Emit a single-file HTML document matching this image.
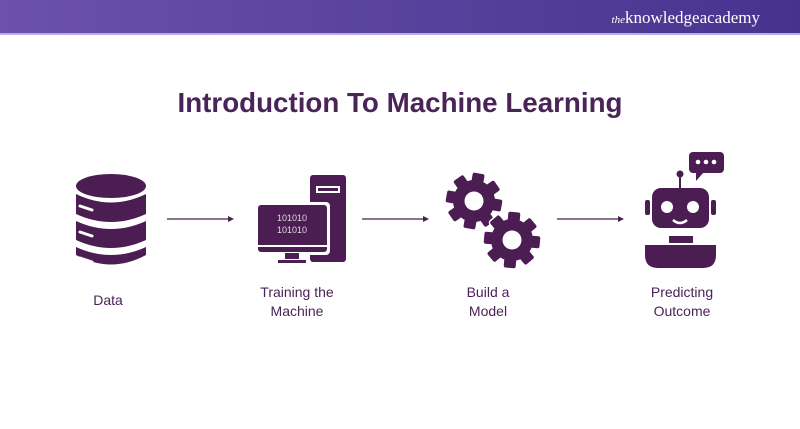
<!DOCTYPE html>
<html><head><style>
body{margin:0;width:800px;height:424px;overflow:hidden;background:#fff;font-family:"Liberation Sans",sans-serif}
</style></head><body>
<svg width="800" height="424" viewBox="0 0 800 424" xmlns="http://www.w3.org/2000/svg">
<defs>
<linearGradient id="hg" x1="0" x2="1"><stop offset="0" stop-color="#6b51aa"/><stop offset="1" stop-color="#47338f"/></linearGradient>
<g id="gear">
<circle r="21"/>
<rect x="-6" y="-28" width="12" height="12" rx="2"/>
<rect x="-6" y="-28" width="12" height="12" rx="2" transform="rotate(45)"/>
<rect x="-6" y="-28" width="12" height="12" rx="2" transform="rotate(90)"/>
<rect x="-6" y="-28" width="12" height="12" rx="2" transform="rotate(135)"/>
<rect x="-6" y="-28" width="12" height="12" rx="2" transform="rotate(180)"/>
<rect x="-6" y="-28" width="12" height="12" rx="2" transform="rotate(225)"/>
<rect x="-6" y="-28" width="12" height="12" rx="2" transform="rotate(270)"/>
<rect x="-6" y="-28" width="12" height="12" rx="2" transform="rotate(315)"/>
</g>
</defs>
<rect width="800" height="33" fill="url(#hg)"/>
<rect y="33" width="800" height="2" fill="#b9aede"/>
<text x="760" y="23" text-anchor="end" font-family="Liberation Serif,serif" font-size="17" fill="#fff"><tspan font-style="italic" font-size="11">the</tspan>knowledgeacademy</text>
<text x="400" y="112" text-anchor="middle" font-size="28" font-weight="bold" fill="#4a2358" textLength="445" lengthAdjust="spacingAndGlyphs">Introduction To Machine Learning</text>

<g fill="#4b1d52">
<ellipse cx="111" cy="186" rx="35" ry="12"/>
<path d="M76 194 Q111 211 146 194 V214 Q111 230 76 214Z"/>
<path d="M76 221 Q111 237 146 221 V240 Q111 256 76 240Z"/>
<path d="M76 247 Q111 263 146 247 V255 Q111 274 76 255Z"/>
</g>
<g stroke="#fff" stroke-width="3" stroke-linecap="round">
<line x1="80" y1="206" x2="92" y2="210"/><line x1="80" y1="232" x2="92" y2="236"/><line x1="80" y1="258" x2="92" y2="262"/>
</g>

<rect x="310" y="175" width="36" height="87" rx="3" fill="#4b1d52"/>
<rect x="316" y="186" width="24" height="7" fill="#fff"/>
<rect x="318" y="188" width="20" height="3" fill="#4b1d52"/>
<rect x="255" y="202" width="75" height="53" rx="4" fill="#fff"/>
<rect x="258" y="205" width="69" height="47" rx="3" fill="#4b1d52"/>
<rect x="258" y="245" width="69" height="2" fill="#fff"/>
<rect x="285" y="253" width="14" height="6" fill="#4b1d52"/>
<rect x="278" y="260" width="28" height="3" fill="#4b1d52"/>
<text x="292" y="221" text-anchor="middle" font-size="9" fill="#ddd">101010</text>
<text x="292" y="233" text-anchor="middle" font-size="9" fill="#ddd">101010</text>

<g fill="#4b1d52">
<use href="#gear" transform="translate(474,201) rotate(10)"/>
<use href="#gear" transform="translate(512,240) rotate(5)" stroke="#fff" stroke-width="3"/>
<use href="#gear" transform="translate(512,240) rotate(5)"/>
</g>
<circle cx="474" cy="201" r="9.5" fill="#fff"/>
<circle cx="512" cy="240" r="9.5" fill="#fff"/>

<g fill="#4b1d52">
<rect x="689" y="152" width="35" height="21" rx="4"/>
<path d="M696 172 L696 181 L704 172Z"/>
<circle cx="680" cy="174" r="3.5"/>
<rect x="679" y="175" width="2" height="14"/>
<rect x="652" y="188" width="57" height="40" rx="9"/>
<rect x="645" y="200" width="5" height="15" rx="2"/>
<rect x="711" y="200" width="5" height="15" rx="2"/>
<rect x="669" y="236" width="24" height="7"/>
<path d="M645 245 H716 V255 Q716 268 703 268 H658 Q645 268 645 255Z"/>
</g>
<g fill="#fff">
<circle cx="667" cy="207" r="6"/><circle cx="693" cy="207" r="6"/>
<circle cx="698" cy="162" r="2.3"/><circle cx="706" cy="162" r="2.3"/><circle cx="714" cy="162" r="2.3"/>
</g>
<path d="M673 220 Q680 226 687 220" stroke="#fff" stroke-width="2.5" fill="none"/>

<g stroke="#4b1d52" stroke-width="1.2">
<line x1="167" y1="219" x2="230" y2="219"/><line x1="362" y1="219" x2="425" y2="219"/><line x1="557" y1="219" x2="620" y2="219"/>
</g>
<g fill="#4b1d52">
<path d="M234 219 L228 216 L228 222Z"/><path d="M429 219 L423 216 L423 222Z"/><path d="M624 219 L618 216 L618 222Z"/>
</g>

<g font-size="14" fill="#4a2358" text-anchor="middle">
<text x="108" y="305">Data</text>
<text x="297" y="297">Training the</text><text x="297" y="316">Machine</text>
<text x="488" y="297">Build a</text><text x="488" y="316">Model</text>
<text x="682" y="297">Predicting</text><text x="682" y="316">Outcome</text>
</g>
</svg>
</body></html>
